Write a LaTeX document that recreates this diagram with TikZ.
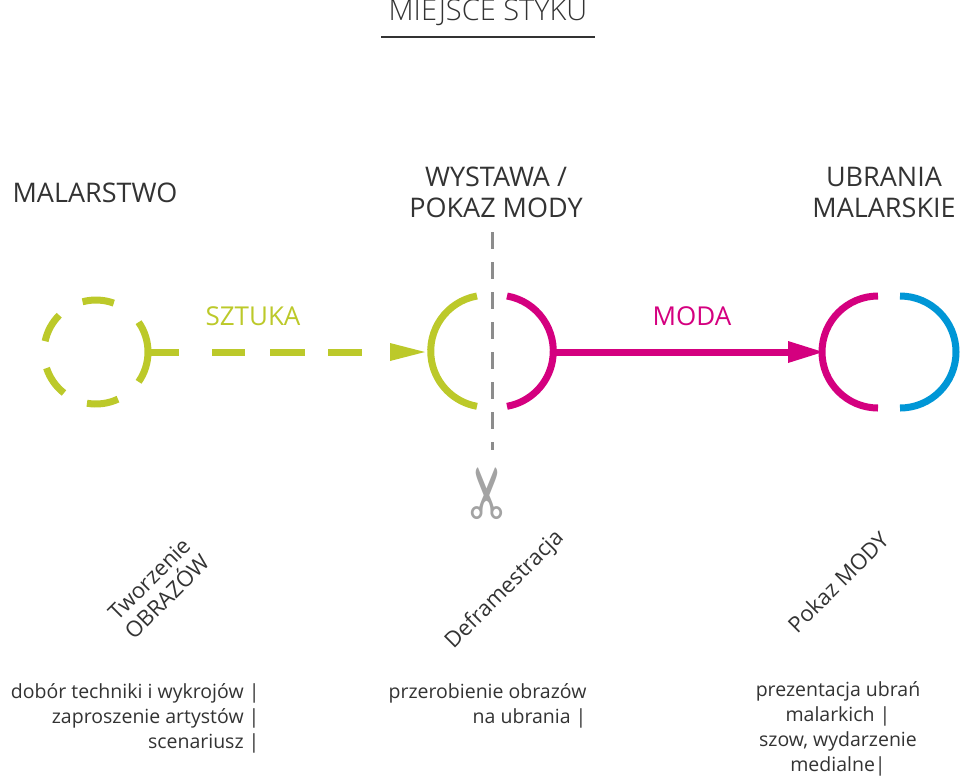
\documentclass[tikz,border=0pt]{standalone}
\usetikzlibrary{calc}
\usepackage{fontspec}
\setmainfont{Open Sans}
\newfontfamily\lightf{Open Sans Light}
\newfontfamily\djv{DejaVu Sans}
\definecolor{lime}{HTML}{BCC92A}
\definecolor{mag}{HTML}{D4007F}
\definecolor{sky}{HTML}{0096D6}
\definecolor{txt}{HTML}{333333}
\definecolor{gr}{HTML}{8C8C8C}
\begin{document}
\begin{tikzpicture}[x=1pt,y=-1pt,
  head/.style={text=txt,font=\fontsize{27}{31}\selectfont,align=center},
  desc/.style={text=txt,font=\fontsize{19.5}{25}\selectfont,align=right,anchor=north east},
  rot/.style={text=txt,font=\fontsize{22}{25}\selectfont,rotate=45,align=center},
  thick7/.style={line width=7pt}]
\useasboundingbox (0,0) rectangle (960,780);
% title
\node[text=txt,font=\lightf\fontsize{29}{30}\selectfont] (title) at (488,13) {MIEJSCE STYKU};
\draw[txt,line width=1.2pt] (381,37) -- (595,37);
\node[head] (mal) at (95,193) {MALARSTWO};
\node[head] (wys) at (496,192) {WYSTAWA /\\POKAZ MODY};
\node[head] (ubr) at (884,192) {UBRANIA\\MALARSKIE};
\node[text=lime,font=\fontsize{26}{28}\selectfont] (sz) at (253,316) {SZTUKA};
\node[text=mag,font=\fontsize{26}{28}\selectfont] (mo) at (692,316) {MODA};
% left dashed circle
\coordinate (c1) at (96,352);
\foreach \a/\b in {-35/35,65/100,128/162,192/225,255/290}
  \draw[lime,thick7] ($(c1)+(\a:52)$) arc[start angle=\a,end angle=\b,radius=52];
\coordinate (c1r) at (150,352);
\coordinate (c2l) at (425,352);
\draw[lime,thick7] (c1r) -- (179,352);
\foreach \s/\e in {212/245,270/305,328/362}
  \draw[lime,thick7] (\s,352) -- (\e,352);
\fill[lime] (390,343) -- (c2l) -- (390,361) -- cycle;
% middle
\draw[gr,line width=3pt,dash pattern=on 17pt off 13pt] (492,232) -- (492,450);
\draw[lime,thick7] (477,296) arc[start angle=-100,end angle=-260,radius=56];
\draw[mag,thick7] (507,296) arc[start angle=-80,end angle=80,radius=56];
% magenta arrow
\coordinate (c2r) at (556,352);
\coordinate (c3l) at (823,352);
\draw[mag,thick7] (c2r) -- (792,352);
\fill[mag] (788,341) -- (c3l) -- (788,363) -- cycle;
% right
\draw[mag,thick7] (878,296) arc[start angle=-90,end angle=-270,radius=56];
\draw[sky,thick7] (900,296) arc[start angle=-90,end angle=90,radius=56];
% scissors
\node[text=gr!80,font=\djv\fontsize{70}{70}\selectfont,rotate=90] (sc) at (492,493) {✂};
% rotated labels
\node[rot] (r1) at (158,588) {Tworzenie\\OBRAZÓW};
\node[rot] (r2) at (505,590) {Deframestracja};
\node[rot] (r3) at (838,582) {Pokaz MODY};
% descriptions
\node[desc] (d1) at (263,680) {dobór techniki i wykrojów |\\zaproszenie artystów |\\scenariusz |};
\node[desc] (d2) at (590,680) {przerobienie obrazów\\na ubrania |};
\node[desc,align=center,anchor=north] (d3) at (838,678) {prezentacja ubrań\\malarkich |\\szow, wydarzenie\\medialne|};
\end{tikzpicture}
\end{document}
